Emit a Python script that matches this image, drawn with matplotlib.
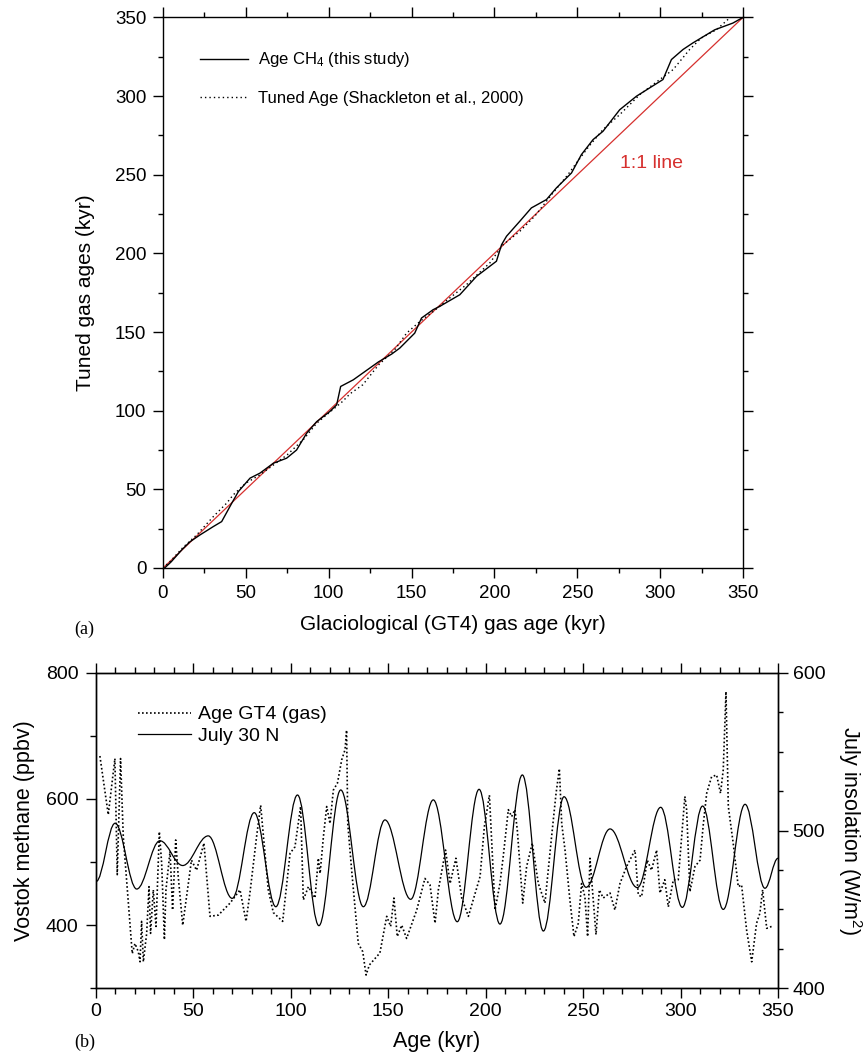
import matplotlib
matplotlib.use('Agg')
import matplotlib.pyplot as plt
from matplotlib.path import Path
from matplotlib.patches import PathPatch
from matplotlib.lines import Line2D
from matplotlib.ticker import MultipleLocator

plt.rcParams['font.family'] = ['Liberation Sans', 'DejaVu Sans']
plt.rcParams['mathtext.fontset'] = 'custom'
plt.rcParams['mathtext.rm'] = 'Liberation Sans'
plt.rcParams['mathtext.default'] = 'regular'

# ---- panel (a): tuned gas age vs GT4 gas age ----
gt4_ch4 = [1, 5, 11.3, 16.3, 22.3, 30.3, 35.4, 41.5, 45.5, 52.5, 58.5, 66.6, 74.6, 80.6,
           86.7, 92.7, 100.7, 104.8, 107.2, 114.8, 122, 130, 138, 142.9, 151.9, 156, 163,
           167, 179.1, 189.2, 201.2, 204.3, 207.3, 215.3, 222.3, 231.4, 237.4, 246.5,
           252.5, 259.5, 265.5, 275.6, 285.7, 301.7, 306.8, 313.8, 319.8, 332.9, 343.9, 350]
age_ch4 = [0, 4, 11.5, 16.7, 21, 26.3, 29.5, 41.2, 48.6, 57.1, 60.3, 66.6, 69.8, 75,
           85.7, 93, 99.5, 103.7, 115.4, 119.6, 125, 131, 136, 139.8, 149.3, 158.9, 164.2,
           166.3, 173.7, 185.4, 195, 205.5, 210.9, 220.4, 228.9, 234.2, 241.6, 251.1,
           262.8, 272.3, 277.6, 291.3, 299.9, 310.5, 323.2, 329.6, 333.8, 342.1, 346.4, 350]

gt4_shack = [0, 4.2, 12, 20.3, 30.3, 38.4, 42.4, 50, 58.5, 66, 75, 85, 92.7, 100, 104.8,
             108.4, 112.8, 120.6, 130, 140, 147, 155, 163, 173, 183.1, 197.2, 205.2, 215.3,
             224.3, 235, 244.4, 249.5, 257, 265.5, 275.6, 287.7, 295.7, 307.8, 317.8, 324.9,
             333.9, 341.9, 350]
age_shack = [0, 4, 13, 21, 32.6, 41.2, 46.5, 54, 59.2, 65, 72, 82, 92, 98.5, 102.7,
             105.9, 110.7, 116.5, 129, 139, 149.3, 156.7, 163, 171.6, 180.1, 193.9, 205.5, 214,
             223.6, 238, 250.1, 257.5, 268, 278.7, 288.2, 300.9, 307.3, 316.8, 329.6, 337,
             342.1, 349.6, 356]

one_to_one = [0, 350]

# ---- panel (b): Vostok methane and July 30N insolation ----
age_ch4_b = [2, 6.3, 9.7, 10.9, 12.6, 14, 16.6, 18.6, 20, 21.7, 22.6, 23.4, 24.3, 26, 27.2,
             28, 29.4, 30.8, 32.5, 33.7, 35.1, 35.9, 38, 39.3, 40.9, 42.2, 44.5, 49, 51.6,
             55.4, 58.5, 62.8, 68.8, 73.9, 77, 79, 82.4, 84.5, 88.4, 91, 95.8, 99.6, 102.1,
             105, 106.4, 109, 112.4, 114.1, 115, 116.7, 118.4, 120.1, 121.8, 123.9, 126.1,
             127.8, 128.6, 129.2, 131.2, 134.6, 136.9, 138.6, 140.3, 145.7, 149.2, 151.2,
             152.9, 154.6, 156.9, 159.4, 164.6, 168.8, 171.4, 174, 175.7, 179.4, 181.7,
             184.7, 187.7, 191.1, 197.1, 199.3, 201.9, 204.8, 207.3, 209, 211.6, 213.3, 215,
             216.2, 219, 221, 223.9, 227, 230.4, 233.8, 236.1, 237.8, 239, 240.7, 243.2,
             245.3, 247.5, 249.2, 250.9, 252.3, 253.5, 255.2, 256.6, 258.3, 260.3, 263.8,
             266.3, 268.9, 272.3, 276.6, 278.3, 280, 282.9, 285.1, 287.7, 289.4, 291.9,
             293.7, 296.3, 298.8, 302.2, 303.1, 304.8, 307.4, 310, 311.7, 313.4, 315.9,
             318.5, 320.5, 321.9, 323.3, 324.5, 327, 329.6, 331.3, 333.9, 336.5, 339, 340.7,
             342.1, 344.2, 346.7]
ch4_ppbv = [668, 575, 664, 480, 664, 540, 435, 355, 371, 358, 342, 406, 342, 387, 461,
            387, 456, 398, 548, 498, 377, 456, 517, 424, 535, 477, 400, 503, 487,
            530, 414, 416, 435, 456, 406, 451, 540, 590, 456, 420, 406, 514, 524,
            588, 440, 461, 443, 506, 482, 540, 588, 561, 614, 625, 662,
            678, 709, 561, 487, 371, 358, 321, 337, 356, 414, 398,
            443, 382, 400, 379, 424, 474, 464, 403, 456, 519, 466,
            506, 443, 414, 477, 556, 606, 424, 466, 509, 583, 572, 583,
            551, 435, 493, 530, 466, 435, 540, 609, 648, 561, 519, 440,
            382, 403, 466, 445, 382, 506, 440, 385, 456, 443, 451,
            424, 466, 493, 519, 448, 445, 503, 487, 519, 451, 472,
            429, 472, 472, 604, 583, 453, 493, 503, 561, 609, 635,
            638, 609, 646, 770, 588, 530, 461, 464, 392, 342, 403, 419,
            456, 395, 398]

# insolation maxima / minima (plus end points)
age_ins = [0, 9.8, 20.9, 32.8, 44.5, 57.6, 69.9, 81.2, 92.3, 103.4, 114.4, 125.6, 137.2,
           148.3, 161.5, 173.1, 185.4, 196.6, 207.3, 218.8, 229.6, 240.2, 251.5, 263.8,
           277.8, 289.8, 300.9, 311.3, 321.9, 333.1, 343.3, 350]
insolation = [467.6, 504.6, 462.9, 493.5, 477.8, 496.6, 457, 511.3, 451.7, 522.5, 439.7,
              525.7, 451.7, 506.7, 456.4, 519.4, 442.2, 526.1, 440.7, 535.2, 436.3, 521.4,
              464, 501, 463.8, 514.7, 451.3, 515.5, 450, 516.6, 463.4, 482.4]

red = '#d6302e'

fig = plt.figure(figsize=(8.68, 10.55), dpi=100)

ax1 = fig.add_axes([163 / 868, 1 - 568 / 1055, 580 / 868, 550.6 / 1055])
ax1.plot(one_to_one, one_to_one, color=red, lw=0.9)
ax1.plot(gt4_ch4, age_ch4, color='black', lw=1.0, label=r'Age CH$_4$ (this study)')
ax1.plot(gt4_shack, age_shack, color='black', lw=1.0, ls=(0, (1, 2.2)),
         label='Tuned Age (Shackleton et al., 2000)')
ax1.text(275.6, 257.4, '1:1 line', color=red, fontsize=14, va='center')
ax1.set_xlim(0, 350)
ax1.set_ylim(0, 350)
ax1.xaxis.set_major_locator(MultipleLocator(50))
ax1.xaxis.set_minor_locator(MultipleLocator(25))
ax1.yaxis.set_major_locator(MultipleLocator(50))
ax1.yaxis.set_minor_locator(MultipleLocator(25))
ax1.tick_params(which='both', direction='out', top=True, right=True, width=1.0,
                labelsize=13.5)
ax1.tick_params(which='major', length=7)
ax1.tick_params(which='minor', length=3.5)
ax1.tick_params(axis='x', which='major', pad=5.5)
ax1.tick_params(axis='y', which='major', pad=5)
ax1.set_xlabel('Glaciological (GT4) gas age (kyr)', fontsize=15, labelpad=9)
ax1.set_ylabel('Tuned gas ages (kyr)', fontsize=15, labelpad=14)
ax1.legend(loc='upper left', bbox_to_anchor=(0.064, 0.94), frameon=False, fontsize=12,
           handlelength=2.9, handletextpad=0.55, labelspacing=1.3, borderpad=0,
           borderaxespad=0)
for s in ax1.spines.values():
    s.set_linewidth(1.0)

ax2 = fig.add_axes([96 / 868, 1 - 988.3 / 1055, 682 / 868, 315.6 / 1055])
ax2.plot(age_ch4_b, ch4_ppbv, color='black', lw=1.2, ls=(0, (1, 1.4)))
ax2.set_xlim(0, 350)
ax2.set_ylim(300, 800)
ax2.xaxis.set_major_locator(MultipleLocator(50))
ax2.xaxis.set_minor_locator(MultipleLocator(10))
ax2.yaxis.set_major_locator(MultipleLocator(200))
ax2.yaxis.set_minor_locator(MultipleLocator(100))
ax2.tick_params(which='both', direction='out', top=True, width=1.0, labelsize=14)
ax2.tick_params(which='major', length=7)
ax2.tick_params(which='minor', length=4)
ax2.tick_params(axis='y', which='major', pad=5.5)
ax2.set_xlabel('Age (kyr)', fontsize=15.5, labelpad=8)
ax2.set_ylabel('Vostok methane (ppbv)', fontsize=15.5, labelpad=8)

ax3 = ax2.twinx()
# smooth insolation curve: cubic segments with flat tangents at each max / min
verts = [(age_ins[0], insolation[0])]
codes = [Path.MOVETO]
k = 0.3642
for i in range(1, len(age_ins)):
    xa, ya = age_ins[i - 1], insolation[i - 1]
    xb, yb = age_ins[i], insolation[i]
    dx = xb - xa
    verts += [(xa + k * dx, ya), (xb - k * dx, yb), (xb, yb)]
    codes += [Path.CURVE4] * 3
ax3.add_patch(PathPatch(Path(verts, codes), fill=False, edgecolor='black', lw=0.9))
ax3.set_ylim(400, 600)
ax3.yaxis.set_major_locator(MultipleLocator(100))
ax3.yaxis.set_minor_locator(MultipleLocator(25))
ax3.tick_params(which='both', direction='out', width=1.0, labelsize=14)
ax3.tick_params(which='major', length=7)
ax3.tick_params(which='minor', length=3.5)
ax3.set_ylabel('July insolation (W/m$^2$)', fontsize=15.5, rotation=270, labelpad=28)
for a in (ax2, ax3):
    for s in a.spines.values():
        s.set_linewidth(1.0)

handles = [Line2D([], [], color='black', lw=1.2, ls=(0, (1, 1.4))),
           Line2D([], [], color='black', lw=0.9)]
ax3.legend(handles, ['Age GT4 (gas)', 'July 30 N'], loc='upper left',
           bbox_to_anchor=(0.0616, 0.895), frameon=False, fontsize=14, handlelength=2.7,
           handletextpad=0.4, labelspacing=0.2, borderpad=0, borderaxespad=0)

fig.text(74 / 868, 1 - 634 / 1055, '(a)', family='Liberation Serif', fontsize=13)
fig.text(74 / 868, 1 - 1047 / 1055, '(b)', family='Liberation Serif', fontsize=13)

fig.savefig('out.png', dpi=100)
